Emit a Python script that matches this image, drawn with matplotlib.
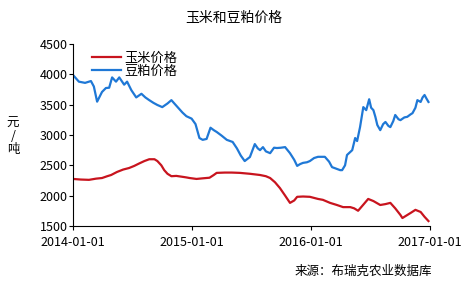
import pandas as pd
import matplotlib
matplotlib.use('Agg')
import matplotlib.pyplot as plt
import matplotlib.dates as mdates

plt.rcParams['font.family'] = ['Noto Sans CJK SC', 'DejaVu Sans']

# 豆粕价格 (元/吨)
meal_dates = ['2014-01-01', '2014-01-19', '2014-02-07', '2014-02-25', '2014-03-06', '2014-03-16',
              '2014-03-31', '2014-04-12', '2014-04-22', '2014-05-01', '2014-05-13', '2014-05-23',
              '2014-06-07', '2014-06-16', '2014-06-29', '2014-07-14', '2014-07-30', '2014-08-11',
              '2014-08-23', '2014-09-05', '2014-09-17', '2014-10-02', '2014-10-18', '2014-10-30',
              '2014-11-08', '2014-11-18', '2014-12-03', '2014-12-15', '2014-12-31', '2015-01-12',
              '2015-01-24', '2015-02-03', '2015-02-15', '2015-02-27', '2015-03-09', '2015-03-18',
              '2015-04-02', '2015-04-18', '2015-05-06', '2015-05-19', '2015-05-31', '2015-06-12',
              '2015-06-28', '2015-07-13', '2015-07-22', '2015-07-29', '2015-08-07', '2015-08-16',
              '2015-08-29', '2015-09-10', '2015-09-19', '2015-10-01', '2015-10-14', '2015-10-29',
              '2015-11-11', '2015-11-20', '2015-11-29', '2015-12-08', '2015-12-20', '2015-12-29',
              '2016-01-11', '2016-01-23', '2016-02-04', '2016-02-13', '2016-02-26', '2016-03-06',
              '2016-03-21', '2016-03-31', '2016-04-06', '2016-04-15', '2016-04-21', '2016-05-01',
              '2016-05-07', '2016-05-16', '2016-05-22', '2016-05-31', '2016-06-10', '2016-06-19',
              '2016-06-28', '2016-07-04', '2016-07-11', '2016-07-17', '2016-07-23', '2016-08-01',
              '2016-08-10', '2016-08-17', '2016-08-26', '2016-09-01', '2016-09-10', '2016-09-16',
              '2016-09-26', '2016-10-02', '2016-10-14', '2016-10-23', '2016-11-02', '2016-11-08',
              '2016-11-17', '2016-11-23', '2016-12-03', '2016-12-09', '2016-12-15', '2016-12-21',
              '2016-12-27']
meal_price = [3990, 3880, 3860, 3890, 3800, 3550,
              3710, 3775, 3780, 3950, 3880, 3950,
              3830, 3880, 3740, 3620, 3680, 3620,
              3575, 3530, 3495, 3460, 3520, 3575,
              3520, 3460, 3370, 3310, 3270, 3180,
              2950, 2920, 2935, 3120, 3080, 3050,
              2990, 2920, 2885, 2780, 2660, 2570,
              2637, 2850, 2780, 2750, 2800, 2730,
              2700, 2790, 2785, 2790, 2800, 2700,
              2590, 2490, 2520, 2540, 2550, 2570,
              2620, 2640, 2640, 2640, 2560, 2470,
              2440, 2420, 2420, 2500, 2670, 2720,
              2750, 2950, 2900, 3130, 3460, 3410,
              3590, 3450, 3410, 3300, 3165, 3080,
              3180, 3215, 3150, 3130, 3230, 3330,
              3260, 3245, 3290, 3300, 3340, 3360,
              3450, 3575, 3545, 3620, 3660, 3600,
              3545]

# 玉米价格 (元/吨)
corn_dates = ['2014-01-01', '2014-01-25', '2014-02-19', '2014-03-13', '2014-03-31', '2014-04-16',
              '2014-04-28', '2014-05-16', '2014-06-04', '2014-06-22', '2014-07-08', '2014-07-23',
              '2014-08-08', '2014-08-23', '2014-09-08', '2014-09-17', '2014-09-29', '2014-10-08',
              '2014-10-18', '2014-10-30', '2014-11-14', '2014-12-03', '2014-12-15', '2014-12-25',
              '2015-01-15', '2015-02-03', '2015-02-24', '2015-03-09', '2015-03-18', '2015-04-12',
              '2015-05-03', '2015-05-28', '2015-06-28', '2015-07-29', '2015-08-16', '2015-08-29',
              '2015-09-13', '2015-09-28', '2015-10-14', '2015-10-29', '2015-11-11', '2015-11-20',
              '2015-12-08', '2015-12-29', '2016-01-23', '2016-02-07', '2016-02-29', '2016-03-21',
              '2016-04-09', '2016-05-01', '2016-05-13', '2016-05-25', '2016-06-10', '2016-06-25',
              '2016-07-11', '2016-08-01', '2016-08-17', '2016-09-01', '2016-09-16', '2016-10-02',
              '2016-10-08', '2016-10-23', '2016-11-04', '2016-11-17', '2016-12-03', '2016-12-15',
              '2016-12-27']
corn_price = [2275, 2265, 2260, 2280, 2290, 2320,
              2340, 2390, 2430, 2455, 2490, 2530,
              2570, 2600, 2600, 2570, 2500, 2420,
              2360, 2320, 2325, 2310, 2300, 2290,
              2275, 2285, 2295, 2340, 2375, 2380,
              2380, 2375, 2360, 2340, 2320, 2290,
              2220, 2125, 2000, 1880, 1920, 1980,
              1985, 1980, 1945, 1930, 1880, 1845,
              1810, 1810, 1790, 1750, 1850, 1945,
              1910, 1845, 1860, 1880, 1790, 1680,
              1630, 1680, 1720, 1765, 1730, 1650,
              1580]

ticks = ['2014-01-01', '2015-01-01', '2016-01-01', '2017-01-01']

fig = plt.figure(figsize=(4.68, 2.9), dpi=100)
ax = fig.add_axes([0.156, 0.221, 0.763, 0.627])

ax.plot(pd.to_datetime(corn_dates), corn_price, color='#c8141e', lw=1.6, label='玉米价格')
ax.plot(pd.to_datetime(meal_dates), meal_price, color='#1f78d6', lw=1.6, label='豆粕价格')

ax.set_ylim(1500, 4500)
ax.set_yticks([1500, 2000, 2500, 3000, 3500, 4000, 4500])
ax.set_xlim(pd.Timestamp('2014-01-01'), pd.Timestamp('2017-01-01'))
ax.set_xticks(pd.to_datetime(ticks))
ax.xaxis.set_major_formatter(mdates.DateFormatter('%Y-%m-%d'))
ax.tick_params(labelsize=9, length=3, width=0.8)
ax.tick_params(axis='y', pad=1)
ax.tick_params(axis='x', pad=4)
for s in ['top', 'right']:
    ax.spines[s].set_visible(False)

ax.legend(loc='upper left', bbox_to_anchor=(0.03, 1.0), frameon=False, fontsize=9.5,
          handlelength=2.2, handletextpad=0.3, labelspacing=0.0, borderaxespad=0.2)

fig.text(0.5, 0.94, '玉米和豆粕价格', ha='center', va='center', fontsize=10)
fig.text(0.028, 0.53, '元\n/\n吨', ha='center', va='center', fontsize=9, linespacing=1.0)
fig.text(0.63, 0.066, '来源：布瑞克农业数据库', ha='left', va='center', fontsize=9)

fig.savefig('out.png', dpi=100)
